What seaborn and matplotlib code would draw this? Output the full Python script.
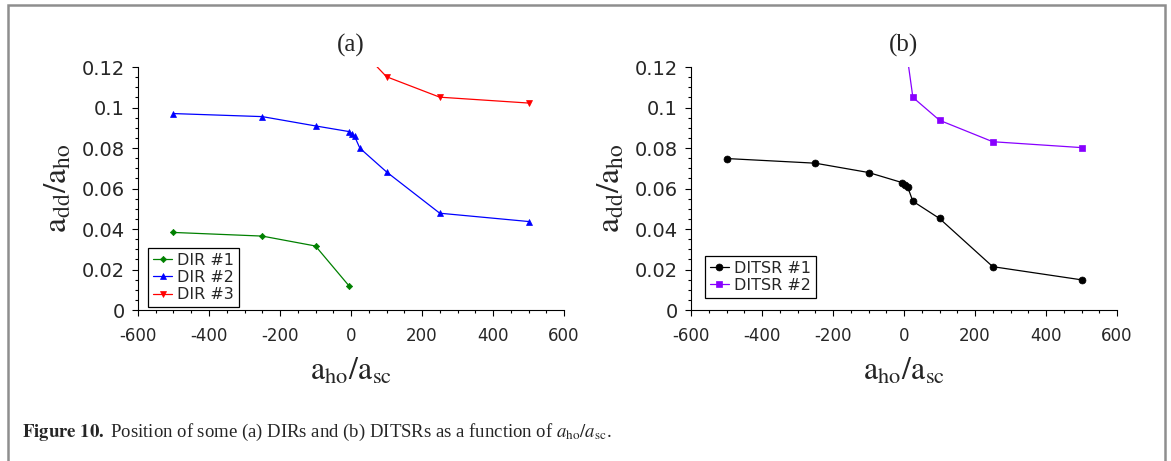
import numpy as np
import pandas as pd
import matplotlib
matplotlib.use('Agg')
import matplotlib.pyplot as plt
from matplotlib import font_manager
from matplotlib.patches import Rectangle
import seaborn as sns

# data
dir1_x = [-500, -250, -100, -5]
dir1_y = [0.0383, 0.0365, 0.0316, 0.0118]
dir2_x = [-500, -250, -100, -5, 2, 10, 25, 100, 250, 500]
dir2_y = [0.0970, 0.0955, 0.0909, 0.0881, 0.0871, 0.0858, 0.0799, 0.0682, 0.0478, 0.0437]
dir3_x = [25, 100, 250, 500]
dir3_y = [0.129, 0.1152, 0.1051, 0.1022]

ditsr1_x = [-500, -250, -100, -5, 2, 10, 25, 100, 250, 500]
ditsr1_y = [0.0748, 0.0725, 0.0679, 0.0629, 0.0616, 0.0609, 0.0537, 0.0452, 0.0214, 0.0149]
ditsr2_x = [10, 25, 100, 250, 500]
ditsr2_y = [0.124, 0.105, 0.0937, 0.0831, 0.0802]

xticks = [-600, -400, -200, 0, 200, 400, 600]
xtick_labels = ['-600', '-400', '-200', '0', '200', '400', '600']
yticks = [0, 0.02, 0.04, 0.06, 0.08, 0.1, 0.12]
ytick_labels = ['0', '0.02', '0.04', '0.06', '0.08', '0.1', '0.12']

sns.set_style('ticks')
plt.rcParams['font.family'] = ['DejaVu Sans']
plt.rcParams['mathtext.fontset'] = 'stix'

installed = {f.name for f in font_manager.fontManager.ttflist}
narrow = 'Liberation Sans Narrow' if 'Liberation Sans Narrow' in installed else 'DejaVu Sans'
serif = 'Liberation Serif' if 'Liberation Serif' in installed else 'DejaVu Serif'

W, H = 1171, 461
fig = plt.figure(figsize=(W / 100, H / 100), dpi=100)

def px_axes(left, right, top=67, bottom=310):
    return fig.add_axes([left / W, (H - bottom) / H, (right - left) / W, (bottom - top) / H])

ax_a = px_axes(138, 564)
ax_b = px_axes(691, 1117)


def draw(ax, x, y, color, marker, size, label):
    sns.lineplot(x=x, y=y, ax=ax, color=color, marker=marker, markersize=size,
                 markeredgecolor=color, markeredgewidth=0.5, linewidth=0.9, label=label)


draw(ax_a, dir1_x, dir1_y, '#008000', 'D', 3.2, 'DIR #1')
draw(ax_a, dir2_x, dir2_y, '#0000ff', '^', 5, 'DIR #2')
draw(ax_a, dir3_x, dir3_y, '#ff0000', 'v', 5, 'DIR #3')

draw(ax_b, ditsr1_x, ditsr1_y, '#000000', 'o', 5, 'DITSR #1')
draw(ax_b, ditsr2_x, ditsr2_y, '#8800ff', 's', 5, 'DITSR #2')

for ax, title, leg_anchor in [(ax_a, '(a)', (0.024, 0.012)), (ax_b, '(b)', (0.033, 0.05))]:
    ax.set_xlim(-600, 600)
    ax.set_ylim(0, 0.12)
    ax.set_xticks(xticks)
    ax.set_xticklabels(xtick_labels, family=narrow, fontsize=12)
    ax.set_yticks(yticks)
    ax.set_yticklabels(ytick_labels, fontsize=14)
    ax.set_xticks(np.arange(-550, 600, 50), minor=True)
    ax.set_yticks(np.arange(0.005, 0.12, 0.005), minor=True)
    ax.tick_params(which='major', length=4.5, width=0.8, direction='out', color='black')
    ax.tick_params(which='minor', length=2.5, width=0.8, direction='out', color='black')
    ax.tick_params(axis='x', pad=8)
    ax.tick_params(axis='y', pad=5)
    sns.despine(ax=ax)
    for s in ['left', 'bottom']:
        ax.spines[s].set_linewidth(0.8)
        ax.spines[s].set_color('black')
    ax.set_title(title, family=serif, fontsize=18, pad=11)
    ax.set_xlabel(r'$\mathrm{a_{ho}/a_{sc}}$', fontsize=23, labelpad=7)
    ax.set_ylabel(r'$\mathrm{a_{dd}/a_{ho}}$', fontsize=24, labelpad=6)
    leg = ax.legend(loc='lower left', bbox_to_anchor=leg_anchor, borderaxespad=0,
                    fontsize=11.5, frameon=True, fancybox=False, framealpha=1,
                    edgecolor='black', handlelength=1.2, handletextpad=0.3,
                    labelspacing=0.15, borderpad=0.3)
    leg.get_frame().set_linewidth(0.9)

fig.text(22 / W, 1 - 432 / H,
         r'$\mathbf{Figure\ 10.}$ Position of some (a) DIRs and (b) DITSRs as a function of $a_{\mathrm{ho}}/a_{\mathrm{sc}}$.',
         family=serif, fontsize=13.5, va='center', ha='left')

fig.patches.append(Rectangle((8 / W, -0.1), (1165 - 8) / W, 1.1 - 5 / H,
                             transform=fig.transFigure, fill=False,
                             edgecolor='#8e8e8e', linewidth=1.8, clip_on=False))

fig.savefig('out.png', dpi=100)
